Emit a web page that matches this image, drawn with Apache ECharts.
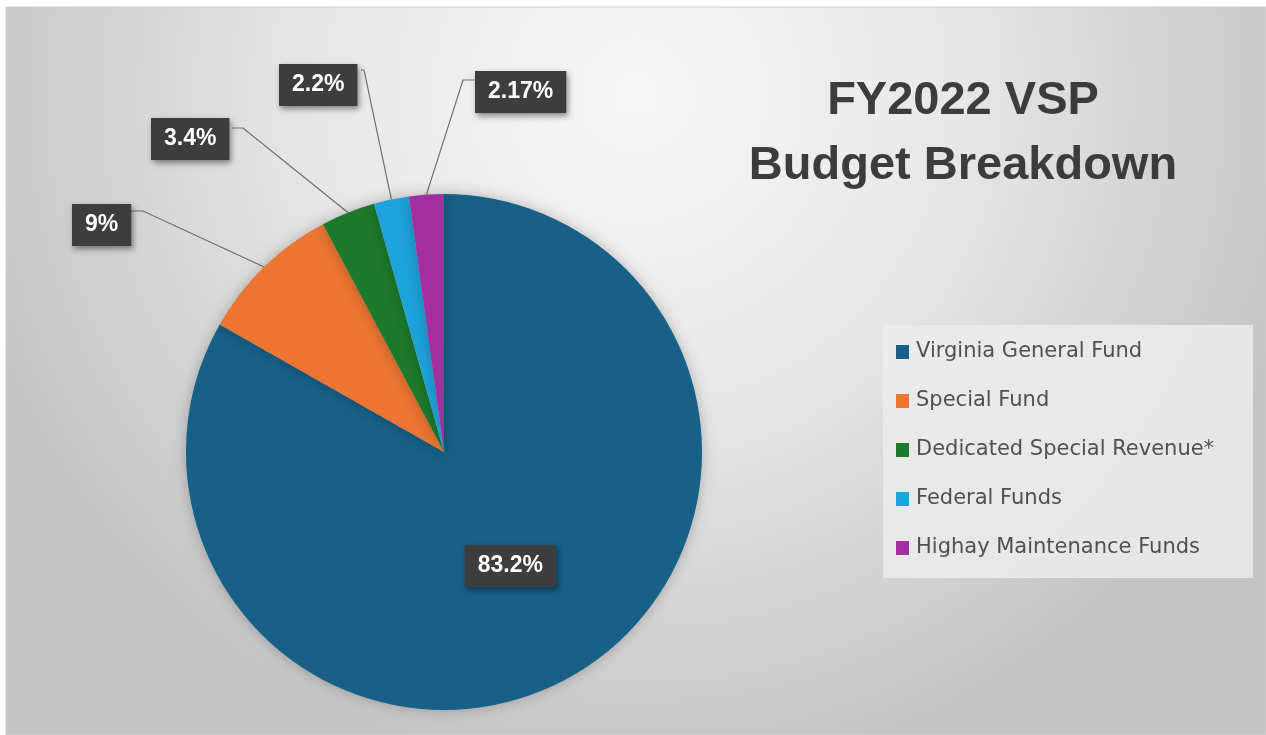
<!DOCTYPE html>
<html>
<head>
<meta charset="utf-8">
<script src="https://cdn.jsdelivr.net/npm/echarts@6/dist/echarts.min.js"></script>
<style>
html,body{margin:0;padding:0;background:#ffffff;}
#chart{width:1266px;height:735px;}
</style>
</head>
<body>
<div id="chart"></div>
<script>
// ---- data ----
const categories = ['Virginia General Fund', 'Special Fund', 'Dedicated Special Revenue*', 'Federal Funds', 'Highay Maintenance Funds'];
const values = [83.2, 9, 3.4, 2.2, 2.17];
const labelTexts = ['83.2%', '9%', '3.4%', '2.2%', '2.17%'];
const colors = ['#176087', '#ec7631', '#1c7a2c', '#1ea3dc', '#a1309e'];
const titleText = 'FY2022 VSP\nBudget Breakdown';

// ---- label box placement (layout only) ----
const boxLayout = [
  null,
  {x: 72, y: 204, lineY: 211, elbowX: 143, side: 'right'},
  {x: 151, y: 118, lineY: 128, elbowX: 243, side: 'right'},
  {x: 279, y: 64, lineY: 70, elbowX: 364, side: 'right'},
  {x: 475, y: 71, lineY: 80, elbowX: 463, side: 'left'}
];
const boxW = [96, 57, 81, 82, 96];

const chart = echarts.init(document.getElementById('chart'), null, {renderer: 'canvas'});

const labelStyle = {
  color: '#ffffff',
  fontFamily: 'Liberation Sans, Arial, sans-serif',
  fontWeight: 'bold',
  fontSize: 23,
  lineHeight: 24,
  backgroundColor: '#3d3d3d',
  padding: [9, 13, 9, 13],
  shadowColor: 'rgba(0,0,0,0.45)',
  shadowBlur: 6,
  shadowOffsetX: 2,
  shadowOffsetY: 3
};

const data = categories.map((c, i) => ({
  name: c,
  value: values[i],
  itemStyle: {color: colors[i]},
  label: Object.assign({}, labelStyle, {
    show: true,
    position: i === 0 ? 'inside' : 'outside',
    formatter: labelTexts[i]
  }),
  labelLine: {show: i !== 0, lineStyle: {color: '#6e6e6e', width: 1.2}}
}));

chart.setOption({
  animation: false,
  backgroundColor: '#ffffff',
  graphic: [
    {
      type: 'rect', z: -10, silent: true,
      shape: {x: 6, y: 7, width: 1260, height: 728},
      style: {
        fill: {
          type: 'radial', x: 0.5, y: 0.12, r: 0.95,
          colorStops: [
            {offset: 0, color: '#f7f7f7'},
            {offset: 0.45, color: '#e8e8e8'},
            {offset: 1, color: '#c4c4c4'}
          ]
        },
        stroke: '#d0d0d0', lineWidth: 1
      }
    },
    {
      type: 'rect', z: -5, silent: true,
      shape: {x: 883, y: 325, width: 370, height: 253},
      style: {fill: 'rgba(236,236,236,0.85)'}
    }
  ],
  title: {
    text: titleText,
    left: 958,
    top: 64,
    textAlign: 'center',
    textStyle: {
      fontFamily: 'Liberation Sans, Arial, sans-serif',
      fontWeight: 'bold',
      fontSize: 47,
      lineHeight: 65,
      color: '#3c3c3c'
    }
  },
  legend: {
    orient: 'vertical',
    left: 883,
    top: 325,
    padding: [16, 10, 18, 13],
    itemGap: 27,
    itemWidth: 13,
    itemHeight: 14,
    icon: 'rect',
    selectedMode: false,
    data: categories,
    textStyle: {
      fontFamily: 'DejaVu Sans, sans-serif',
      fontSize: 21,
      lineHeight: 22,
      color: '#505050',
      padding: [0, 0, 0, 2]
    }
  },
  series: [{
    type: 'pie',
    center: [444, 452],
    radius: 258,
    startAngle: 90,
    clockwise: true,
    avoidLabelOverlap: false,
    itemStyle: {
      shadowBlur: 14,
      shadowColor: 'rgba(0,0,0,0.25)'
    },
    labelLayout: function (params) {
      const i = params.dataIndex;
      const b = boxLayout[i];
      if (!b) return {};
      const edge = params.labelLinePoints ? params.labelLinePoints[0] : null;
      const endX = b.side === 'right' ? b.x + boxW[i] : b.x;
      const res = {x: b.x, y: b.y, align: 'left', verticalAlign: 'top'};
      if (edge) {
        res.labelLinePoints = [edge, [b.elbowX, b.lineY], [endX, b.lineY]];
      }
      return res;
    },
    data: data
  }]
});
</script>
</body>
</html>
